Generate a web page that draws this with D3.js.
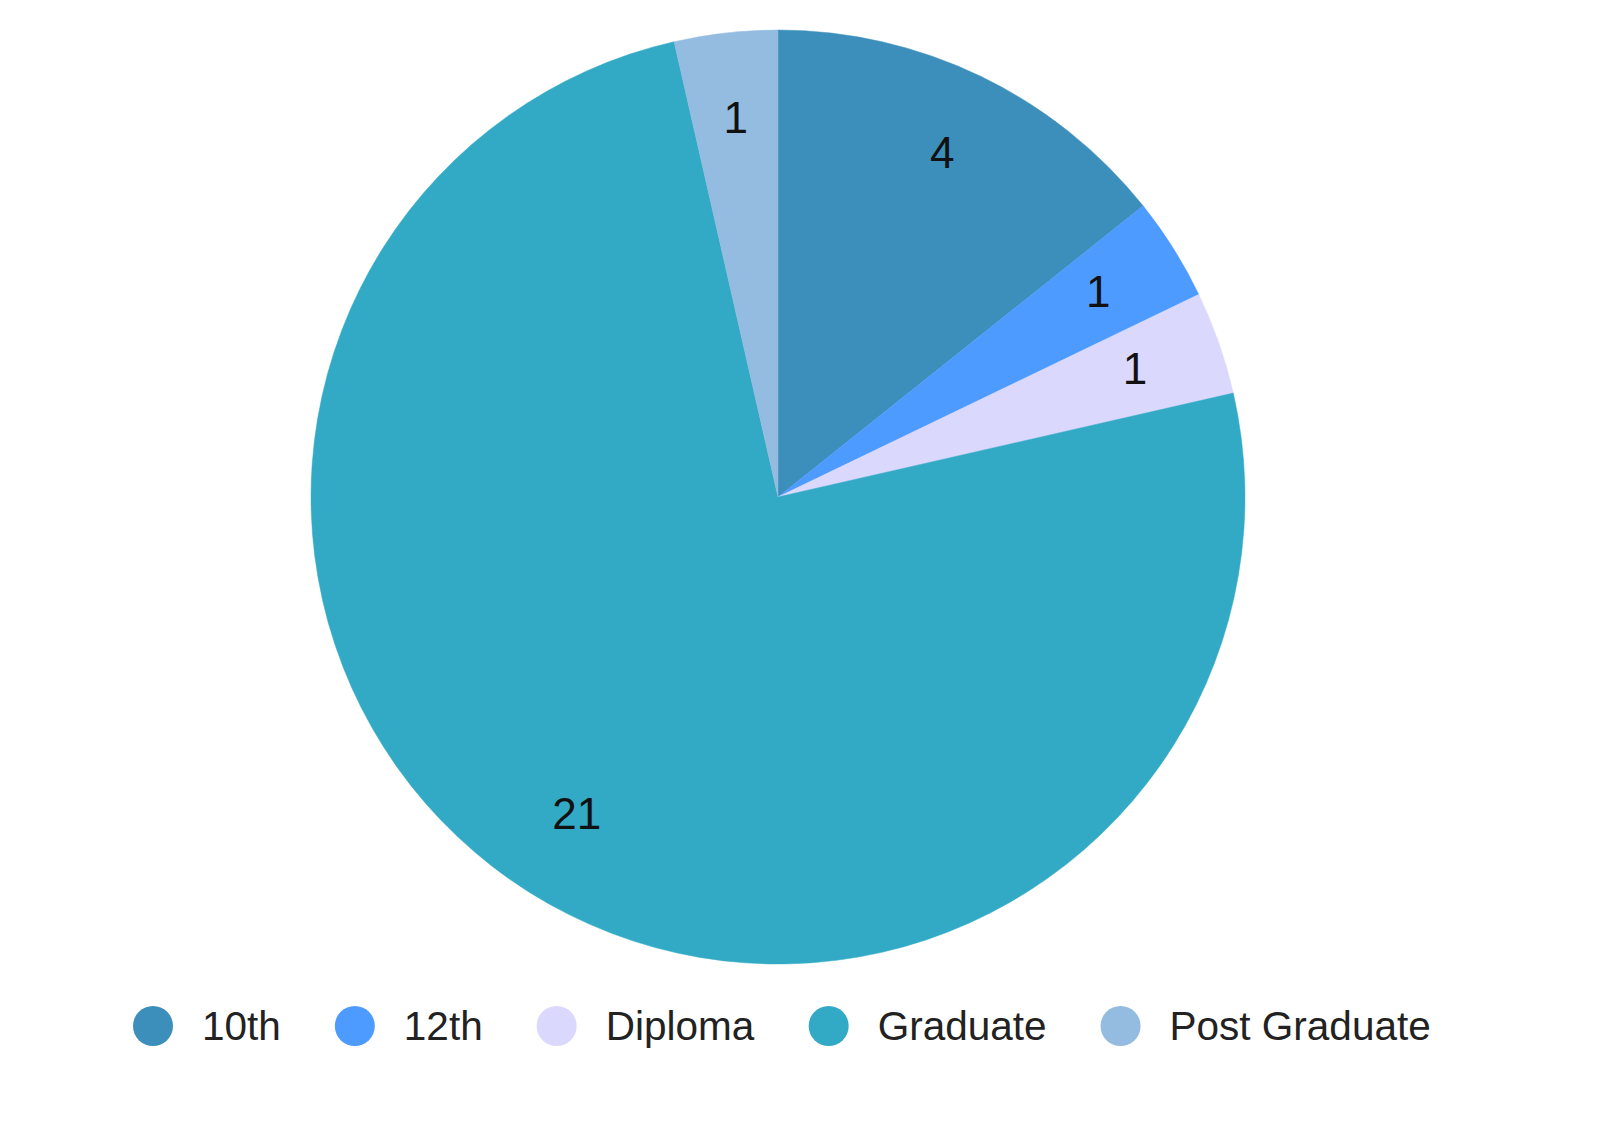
<!DOCTYPE html>
<html>
<head>
<meta charset="utf-8">
<script src="https://cdn.jsdelivr.net/npm/d3@7"></script>
<style>
  html, body { margin: 0; padding: 0; background: #ffffff; }
  svg { display: block; }
</style>
</head>
<body>
<svg id="chart" width="1600" height="1131"></svg>
<script>
const categories = ["10th", "12th", "Diploma", "Graduate", "Post Graduate"];
const values = [4, 1, 1, 21, 1];
const colors = ["#3d8fbb", "#4e9bff", "#dad8fc", "#33aac5", "#94bbe0"];

const W = 1600, H = 1131;
const cx = 778, cy = 497, R = 467;
const labelR = R * 0.81;

const svg = d3.select("#chart");
const data = categories.map((c, i) => ({ cat: c, value: values[i], color: colors[i] }));

const pie = d3.pie().value(d => d.value).sort(null);
const arcs = pie(data);
const arc = d3.arc().innerRadius(0).outerRadius(R);
const labelArc = d3.arc().innerRadius(labelR).outerRadius(labelR);

const g = svg.append("g").attr("transform", `translate(${cx},${cy})`);

g.selectAll("path.slice")
  .data(arcs)
  .join("path")
  .attr("class", "slice")
  .attr("d", arc)
  .attr("fill", d => d.data.color)
  .attr("stroke", d => d.data.color)
  .attr("stroke-width", 0.5);

g.selectAll("text.lbl")
  .data(arcs)
  .join("text")
  .attr("class", "lbl")
  .attr("transform", d => `translate(${labelArc.centroid(d)})`)
  .attr("text-anchor", "middle")
  .attr("dominant-baseline", "central")
  .attr("dy", -4)
  .attr("font-family", "'Liberation Sans', Arial, sans-serif")
  .attr("font-size", 44)
  .attr("fill", "#111111")
  .text(d => d.data.value);

// Legend
const legendY = 1026;
const legendLeft = 133;
const circleR = 20;
const textOffset = 49;
const itemGap = 54;
const legend = svg.append("g");
const items = legend.selectAll("g.item")
  .data(data)
  .join("g")
  .attr("class", "item");

items.append("circle")
  .attr("r", circleR)
  .attr("cx", 0)
  .attr("cy", 0)
  .attr("fill", d => d.color);

items.append("text")
  .attr("x", textOffset)
  .attr("y", 0)
  .attr("dominant-baseline", "central")
  .attr("font-family", "'Liberation Sans', Arial, sans-serif")
  .attr("font-size", 40.5)
  .attr("fill", "#222222")
  .text(d => d.cat);

let x = 0;
const positions = [];
items.each(function(d, i) {
  const tw = d3.select(this).select("text").node().getBBox().width;
  positions.push(x);
  x += circleR + textOffset + tw + itemGap;
});
items.attr("transform", (d, i) => `translate(${legendLeft + circleR + positions[i]},${legendY})`);
</script>
</body>
</html>
